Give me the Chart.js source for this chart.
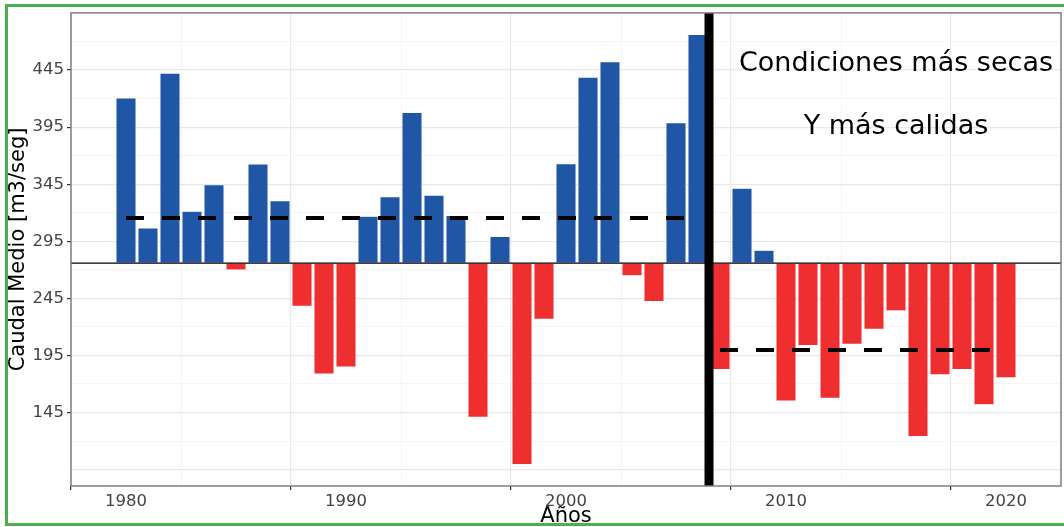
<!DOCTYPE html>
<html lang="es">
<head>
  <meta charset="UTF-8">
  <title>Caudal Medio</title>
  <script src="https://cdn.jsdelivr.net/npm/chart.js@4.4.0/dist/chart.umd.min.js"></script>
  <style>
    body { margin: 0; background: #fff; }
  </style>
</head>
<body>
  <canvas id="myChart" width="1064" height="527"></canvas>
  <script>
    // datos
    const years = [1980, 1981, 1982, 1983, 1984, 1985, 1986, 1987, 1988, 1989,
      1990, 1991, 1992, 1993, 1994, 1995, 1996, 1997, 1998, 1999,
      2000, 2001, 2002, 2003, 2004, 2005, 2006, 2007, 2008, 2009,
      2010, 2011, 2012, 2013, 2014, 2015, 2016, 2017, 2018, 2019, 2020];
    const caudal = [420.7, 306.8, 442.4, 321.3, 344.7, 269.8, 362.7, 330.5, 238.0, 178.7,
      184.8, 317.0, 334.1, 408.0, 335.5, 317.6, 140.7, 299.3, 99.4, 226.5,
      363.0, 438.9, 452.3, 264.8, 242.1, 399.0, 476.3, 182.6, 341.5, 287.2,
      155.0, 203.7, 157.3, 204.6, 217.8, 234.0, 123.8, 177.9, 182.6, 151.8, 175.3];
    const mediaTotal = 275.9;
    const periodo1 = [1980, 2006];
    const media1 = 315.5;
    const periodo2 = [2007, 2020];
    const media2 = 199.7;
    const corte = 2006.5;
    const yLabels = [145, 195, 245, 295, 345, 395, 445];
    const yGrid = [95, 120, 145, 170, 195, 220, 245, 270, 295, 320, 345, 370, 395, 420, 445, 470];
    const xLabels = [1980, 1990, 2000, 2010, 2020];
    const xGrid = [1980, 1985, 1990, 1995, 2000, 2005, 2010, 2015, 2020];
    const textos = ['Condiciones más secas', 'Y más calidas'];
    const textoX = 2015;
    const textoY = [450, 395];

    const xMin = 1977.5, xMax = 2022.5;
    const yMin = 80.6, yMax = 495.1;

    const azul = '#1f56a5';
    const rojo = '#ee2e2f';

    const barras = years.map((a, i) => ({ x: a, y: [mediaTotal, caudal[i]] }));
    const colores = caudal.map(v => v >= mediaTotal ? azul : rojo);

    const tv = c => (c && c.tick) ? c.tick.value : NaN;
    const yMajor = v => (v - 95) % 50 === 0;

    const extras = {
      id: 'extras',
      beforeDraw(chart) {
        const { ctx } = chart;
        ctx.save();
        ctx.fillStyle = '#fff';
        ctx.fillRect(0, 0, chart.width, chart.height);
        ctx.restore();
      },
      afterDatasetsDraw(chart) {
        const { ctx, chartArea: a, scales } = chart;
        ctx.save();
        ctx.fillStyle = '#000';
        ctx.font = '27px "DejaVu Sans"';
        ctx.textAlign = 'center';
        ctx.textBaseline = 'middle';
        textos.forEach((t, i) => {
          ctx.fillText(t, scales.x.getPixelForValue(textoX), scales.y.getPixelForValue(textoY[i]));
        });
        // borde del panel
        ctx.strokeStyle = '#7f7f7f';
        ctx.lineWidth = 1.5;
        ctx.strokeRect(a.left, a.top, a.right - a.left, a.bottom - a.top);
        ctx.restore();
      },
      afterDraw(chart) {
        const { ctx } = chart;
        ctx.save();
        ctx.strokeStyle = '#4caf50';
        ctx.lineWidth = 3;
        ctx.strokeRect(6.5, 5.5, chart.width + 10, chart.height - 8);
        ctx.restore();
      }
    };

    const linea = (pts, w, dash) => ({
      type: 'line',
      data: pts,
      borderColor: '#000',
      borderWidth: w,
      borderDash: dash || [],
      pointRadius: 0,
      fill: false,
      order: 0
    });

    const data = {
      datasets: [
        {
          type: 'bar',
          data: barras,
          backgroundColor: colores,
          borderColor: 'rgba(255,255,255,0.25)',
          borderWidth: 0.6,
          borderSkipped: false,
          barPercentage: 0.92,
          categoryPercentage: 1,
          order: 10
        },
        linea([{ x: xMin, y: mediaTotal }, { x: xMax, y: mediaTotal }], 1.2),
        linea([{ x: periodo1[0], y: media1 }, { x: periodo1[1], y: media1 }], 4, [18, 18]),
        linea([{ x: periodo2[0], y: media2 }, { x: periodo2[1], y: media2 }], 4, [18, 18]),
        linea([{ x: corte, y: yMin }, { x: corte, y: yMax }], 9)
      ]
    };

    const config = {
      type: 'bar',
      data,
      plugins: [extras],
      options: {
        responsive: false,
        animation: false,
        layout: { padding: { top: 10, right: 3, left: 0, bottom: 0 } },
        plugins: { legend: { display: false }, tooltip: { enabled: false } },
        scales: {
          x: {
            type: 'linear',
            min: xMin,
            max: xMax,
            offset: false,
            afterFit: s => { s.height = 41; },
            afterBuildTicks: s => { s.ticks = xGrid.map(v => ({ value: v })); },
            grid: {
              color: c => xLabels.includes(tv(c)) ? '#e8e8e8' : '#f3f3f3',
              lineWidth: c => xLabels.includes(tv(c)) ? 1.2 : 0.8,
              tickColor: c => xLabels.includes(tv(c)) ? '#333' : 'rgba(0,0,0,0)',
              tickLength: 4,
              drawTicks: true
            },
            border: { display: false },
            ticks: {
              autoSkip: false,
              maxRotation: 0,
              padding: 2,
              color: '#444',
              font: { family: 'DejaVu Sans', size: 16.5 },
              callback: v => xLabels.includes(v) ? String(v) : ''
            },
            title: {
              display: true,
              text: 'Años',
              color: '#000',
              font: { family: 'DejaVu Sans', size: 21, lineHeight: 1 },
              padding: { top: 0, bottom: 0 }
            }
          },
          y: {
            type: 'linear',
            min: yMin,
            max: yMax,
            afterFit: s => { s.width = 71; },
            afterBuildTicks: s => { s.ticks = yGrid.map(v => ({ value: v })); },
            grid: {
              color: c => yMajor(tv(c)) ? '#e8e8e8' : '#f3f3f3',
              lineWidth: c => yMajor(tv(c)) ? 1.2 : 0.8,
              tickColor: c => yLabels.includes(tv(c)) ? '#333' : 'rgba(0,0,0,0)',
              tickLength: 4,
              drawTicks: true
            },
            border: { display: false },
            ticks: {
              autoSkip: false,
              padding: 3,
              color: '#444',
              font: { family: 'DejaVu Sans', size: 16.5 },
              callback: v => yLabels.includes(v) ? String(v) : ''
            },
            title: {
              display: true,
              text: 'Caudal Medio [m3/seg]',
              color: '#000',
              font: { family: 'DejaVu Sans', size: 21 },
              padding: { top: 6, bottom: 0 }
            }
          }
        }
      }
    };

    new Chart(document.getElementById('myChart'), config);
  </script>
</body>
</html>
